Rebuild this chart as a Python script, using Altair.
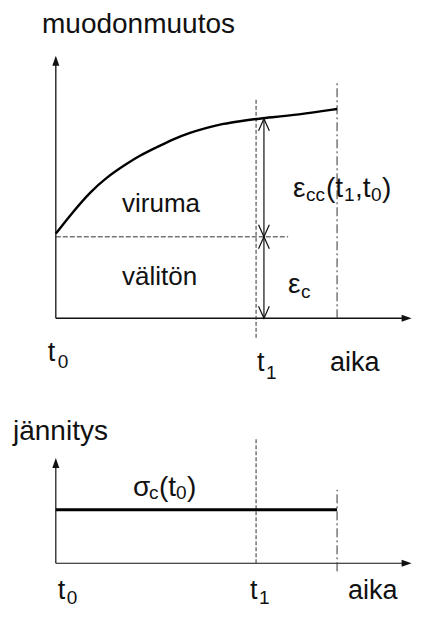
import altair as alt
import pandas as pd

# ---------------- data ----------------
curve_t = [0.0, 0.62, 1.22, 1.81, 2.40, 2.99, 3.59, 4.18, 4.77, 5.37, 5.96, 6.55, 7.14, 8.68, 10.0]
curve_strain = [1.04, 1.31, 1.55, 1.73, 1.87, 2.00, 2.10, 2.20, 2.28, 2.34, 2.39, 2.42, 2.45, 2.50, 2.57]

T0, T1, T_END = 0.0, 7.12, 10.0
EPS_C = 1.0          # instantaneous strain
EPS_T1 = 2.45        # total strain at t1
SIGMA_C = 1.0        # constant stress

title_top = "muodonmuutos"
title_bottom = "jännitys"
label_creep = "viruma"
label_instant = "välitön"
label_time = "aika"

FONT = "Liberation Sans"
INK = "#111111"

# ---------------- scales ----------------
XS = alt.Scale(domain=[-1.7, 12.7], nice=False, zero=False)
YS = alt.Scale(domain=[-3.521, 3.81], nice=False, zero=False)     # strain panel
YP = alt.Scale(domain=[-0.778, 10.352], nice=False, zero=False)   # stress panel

ARROW = "M0,0L0.7,2L-0.7,2Z"
VHEAD = "M-0.9,2L0,0L0.9,2"


def seg(rows, ys, **kw):
    df = pd.DataFrame(rows, columns=["x", "x2", "y", "y2"])
    return alt.Chart(df).mark_rule(**kw).encode(
        x=alt.X("x:Q", scale=XS, axis=None), x2="x2:Q",
        y=alt.Y("y:Q", scale=ys, axis=None), y2="y2:Q")


def pts(rows, ys, shape, size, filled, angle, **kw):
    df = pd.DataFrame(rows, columns=["x", "y"])
    return alt.Chart(df).mark_point(shape=shape, size=size, filled=filled, angle=angle,
                                    opacity=1, color=INK, **kw).encode(
        x=alt.X("x:Q", scale=XS, axis=None), y=alt.Y("y:Q", scale=ys, axis=None))


def label(x, y, pieces, ys):
    out = []
    for txt, dx, dy, size in pieces:
        df = pd.DataFrame({"x": [x], "y": [y], "t": [txt]})
        out.append(alt.Chart(df).mark_text(align="left", baseline="alphabetic", dx=dx, dy=dy,
                                           fontSize=size, font=FONT, color=INK).encode(
            x=alt.X("x:Q", scale=XS, axis=None), y=alt.Y("y:Q", scale=ys, axis=None), text="t:N"))
    return out


# ---------------- top panel (strain) ----------------
curve_df = pd.DataFrame({"t": curve_t, "s": curve_strain})
curve = alt.Chart(curve_df).mark_line(color="#000", strokeWidth=2.4, interpolate="basis").encode(
    x=alt.X("t:Q", scale=XS, axis=None), y=alt.Y("s:Q", scale=YS, axis=None))

top_layers = [
    seg([[T0, T0, 0, 3.12]], YS, color=INK, strokeWidth=1.3),
    seg([[T0, 12.4, 0, 0]], YS, color=INK, strokeWidth=1.3),
    pts([[T0, 3.224]], YS, ARROW, 100, True, 0),
    pts([[12.65, 0]], YS, ARROW, 100, True, 90),
    seg([[T1, T1, -0.24, 2.69]], YS, color="#333", strokeWidth=1, strokeDash=[4, 2]),
    seg([[T_END, T_END, 0, 2.90]], YS, color="#333", strokeWidth=1, strokeDash=[9, 3, 2, 3]),
    seg([[T0, 8.26, EPS_C, EPS_C]], YS, color="#333", strokeWidth=1, strokeDash=[5, 2]),
    curve,
    seg([[7.40, 7.40, 0, EPS_T1]], YS, color=INK, strokeWidth=1.2),
    pts([[7.40, EPS_T1], [7.40, EPS_C]], YS, VHEAD, 144, False, 0, strokeWidth=1.2),
    pts([[7.40, EPS_C], [7.40, 0]], YS, VHEAD, 144, False, 180, strokeWidth=1.2),
]
top_layers += label(-0.491, 3.505, [(title_top, 0, 0, 28)], YS)
top_layers += label(2.353, 1.309, [(label_creep, 0, 0, 26)], YS)
top_layers += label(2.353, 0.406, [(label_instant, 0, 0, 26)], YS)
top_layers += label(8.433, 1.492, [("ε", 0, 0, 28), ("cc", 13, 4, 19), ("(t", 33, 0, 28),
                                   ("1", 51, 4, 19), (",t", 62, 0, 28), ("0", 78, 4, 19),
                                   (")", 89, 0, 28)], YS)
top_layers += label(8.256, 0.309, [("ε", 0, 0, 28), ("c", 13, 5, 19)], YS)
top_layers += label(T0, -0.521, [("t", -8, 0, 27), ("0", 2, 7, 19)], YS)
top_layers += label(T1, -0.643, [("t", 1, 0, 27), ("1", 10, 8, 19)], YS)
top_layers += label(T_END, -0.643, [(label_time, -7, 0, 27)], YS)

# ---------------- bottom panel (stress) ----------------
bottom_layers = [
    seg([[T0, T0, 0, 1.85]], YP, color=INK, strokeWidth=1.2),
    seg([[T0, 12.4, 0, 0]], YP, color=INK, strokeWidth=1.2),
    pts([[T0, 1.963]], YP, ARROW, 100, True, 0),
    pts([[12.65, 0]], YP, ARROW, 100, True, 90),
    seg([[T1, T1, 0, 2.35]], YP, color="#333", strokeWidth=1, strokeDash=[4, 2]),
    seg([[T_END, T_END, -0.15, 1.37]], YP, color="#333", strokeWidth=1, strokeDash=[9, 3, 2, 3]),
    seg([[T0, T_END, SIGMA_C, SIGMA_C]], YP, color="#000", strokeWidth=3),
]
bottom_layers += label(-1.522, 2.296, [(title_bottom, 0, 0, 28)], YP)
bottom_layers += label(2.744, 1.259, [("σ", 0, 0, 28), ("c", 16, 3, 19), ("(t", 26, 0, 28),
                                      ("0", 43, 3, 19), (")", 54, 0, 28)], YP)
bottom_layers += label(T0, -0.667, [("t", 2, 0, 27), ("0", 11, 5, 19)], YP)
bottom_layers += label(T1, -0.667, [("t", -6, 0, 27), ("1", 3, 5, 19)], YP)
bottom_layers += label(T_END, -0.667, [(label_time, 11, 0, 27)], YP)

top = alt.layer(*top_layers)
bottom = alt.layer(*bottom_layers)

chart = alt.layer(top, bottom).resolve_scale(y="independent").properties(
    width=405, height=601, padding=0,
    autosize=alt.AutoSizeParams(type="fit", contains="padding"),
).configure_view(stroke=None)

chart.save("out.html", embed_options={"renderer": "svg", "actions": False})
